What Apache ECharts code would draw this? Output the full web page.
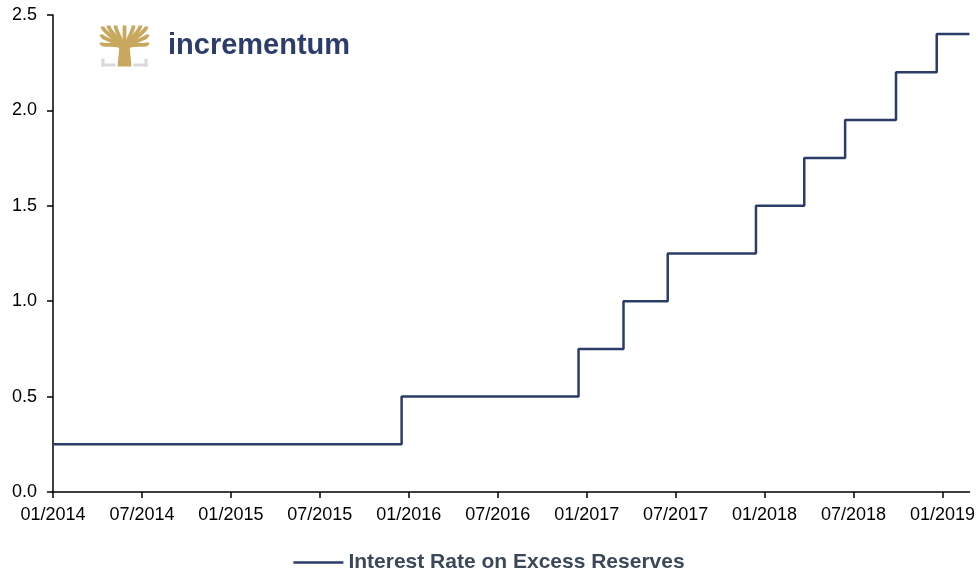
<!DOCTYPE html>
<html>
<head>
<meta charset="utf-8">
<script src="https://cdn.jsdelivr.net/npm/echarts@6/dist/echarts.min.js"></script>
<style>
  html, body { margin: 0; padding: 0; background: #fff; }
  #chart { width: 978px; height: 574px; }
</style>
</head>
<body>
<div id="chart"></div>
<script>
// IOER changes (date the new rate took effect)
const changeDates = ["2014-01-01", "2015-12-17", "2016-12-15", "2017-03-16", "2017-06-15",
  "2017-12-14", "2018-03-22", "2018-06-14", "2018-09-27", "2018-12-20", "2019-02-24"];
const rates = [0.25, 0.50, 0.75, 1.00, 1.25, 1.50, 1.75, 1.95, 2.20, 2.40, 2.40];
const seriesName = "Interest Rate on Excess Reserves";

const lineColor = "#2c3c68";
const gold = "#c8a85e";

// months since 01/2014, so half-year ticks land evenly
function toMonths(s) {
  const [y, m, d] = s.split("-").map(Number);
  const dim = new Date(y, m, 0).getDate();
  return (y - 2014) * 12 + (m - 1) + (d - 1) / dim;
}

const data = changeDates.map((d, i) => [toMonths(d), rates[i]]);
const xMax = toMonths(changeDates[changeDates.length - 1]);

// tree logo branches, from the top of the trunk outwards
const branchEnds = [[1, 1], [7, 0], [14, 0], [23, 0], [32, 0], [39, 0], [45, 1], [0, 9], [46, 9], [0, 17], [46, 17]];
const branches = branchEnds.map(p => ({
  type: "bezierCurve",
  shape: { x1: 23, y1: 26, x2: p[0], y2: p[1], cpx1: 23 + (p[0] - 23) * 0.2, cpy1: 14, cpx2: p[0], cpy2: p[1] + 6 },
  style: { stroke: gold, lineWidth: 3.8, fill: null }
}));

const chart = echarts.init(document.getElementById("chart"));

chart.setOption({
  animation: false,
  textStyle: { fontFamily: "Liberation Sans, Arial, sans-serif" },
  grid: { left: 53, right: 8, top: 15, bottom: 82, containLabel: false },
  xAxis: {
    type: "value",
    min: 0,
    max: xMax,
    interval: 6,
    axisLine: { lineStyle: { color: "#000", width: 1.5 } },
    axisTick: { show: true, inside: false, length: 6, lineStyle: { color: "#000", width: 1.5 } },
    axisLabel: {
      color: "#000",
      fontSize: 18,
      margin: 14,
      showMaxLabel: false,
      formatter: v => {
        const y = 2014 + Math.floor(v / 12);
        const m = (v % 12) + 1;
        return (m < 10 ? "0" + m : m) + "/" + y;
      }
    },
    splitLine: { show: false }
  },
  yAxis: {
    type: "value",
    min: 0,
    max: 2.5,
    interval: 0.5,
    axisLine: { show: true, lineStyle: { color: "#000", width: 1.5 } },
    axisTick: { show: true, length: 6, lineStyle: { color: "#000", width: 1.5 } },
    axisLabel: { color: "#000", fontSize: 18, margin: 16, formatter: v => v.toFixed(1) },
    splitLine: { show: false }
  },
  legend: {
    top: 547,
    left: "center",
    icon: "rect",
    itemWidth: 50,
    itemHeight: 2.5,
    itemGap: 8,
    textStyle: { color: "#3b4858", fontSize: 21, fontWeight: "bold" },
    data: [seriesName]
  },
  series: [{
    name: seriesName,
    type: "line",
    step: "end",
    data: data,
    showSymbol: false,
    lineStyle: { color: lineColor, width: 2.5 },
    itemStyle: { color: lineColor }
  }],
  graphic: [
    {
      type: "group", left: 99, top: 23,
      children: [
        { type: "rect", shape: { x: 0, y: 33, width: 3, height: 8 }, style: { fill: "#d9d9d9" } },
        { type: "rect", shape: { x: 0, y: 38, width: 14, height: 3 }, style: { fill: "#d9d9d9" } },
        { type: "rect", shape: { x: 43, y: 33, width: 3, height: 8 }, style: { fill: "#d9d9d9" } },
        { type: "rect", shape: { x: 32, y: 38, width: 14, height: 3 }, style: { fill: "#d9d9d9" } },
        { type: "polygon", shape: { points: [[16, 41], [30, 41], [28, 20], [18, 20]] }, style: { fill: gold } }
      ].concat(branches)
    },
    {
      type: "text", left: 168, top: 31,
      style: {
        text: "incrementum",
        fill: "#2c3d6b",
        font: "bold 29px 'Liberation Sans', Arial, sans-serif"
      }
    }
  ]
});
</script>
</body>
</html>
